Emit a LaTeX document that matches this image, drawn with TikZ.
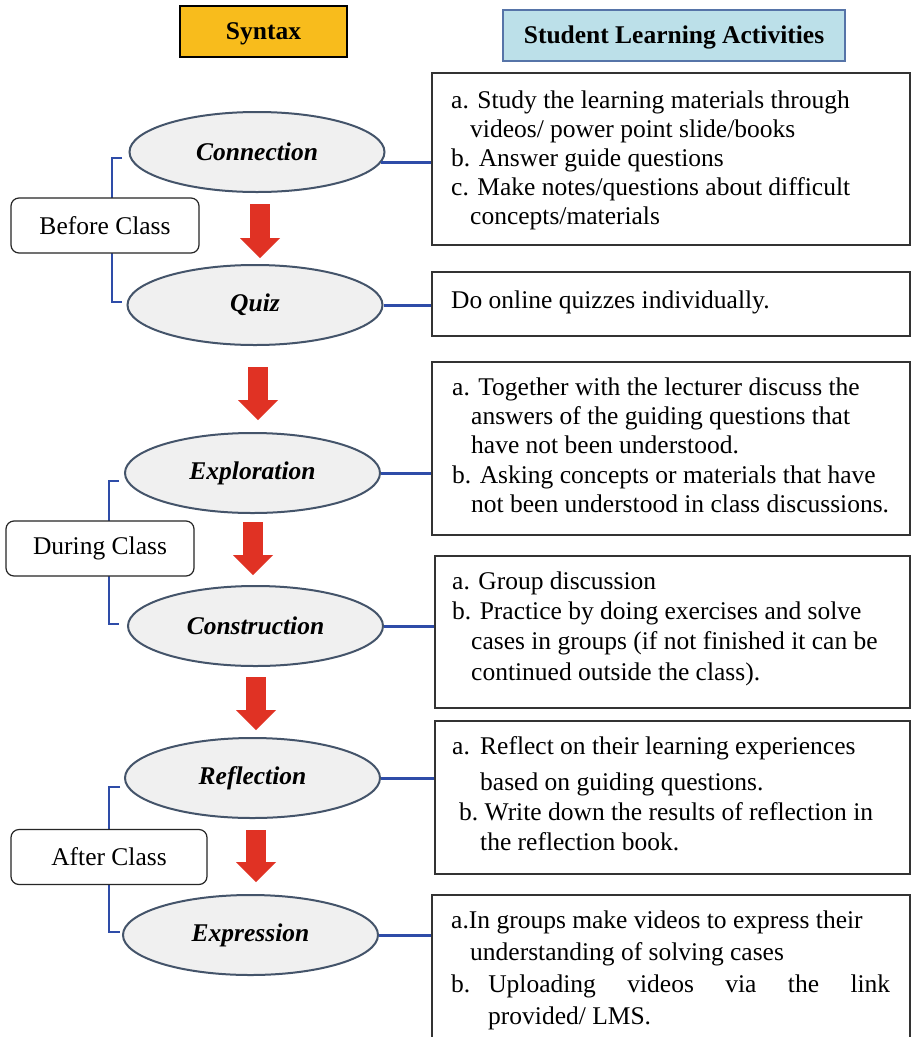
\documentclass[tikz,border=0pt]{standalone}
\usepackage{fontspec}
\setmainfont{Liberation Serif}
\usetikzlibrary{arrows.meta,shapes.geometric}
\definecolor{syntaxfill}{HTML}{F8BC1C}
\definecolor{slafill}{HTML}{BCE0E9}
\definecolor{slaborder}{HTML}{5674A8}
\definecolor{ellfill}{HTML}{F0F0F0}
\definecolor{ellborder}{HTML}{44546A}
\definecolor{arrowred}{HTML}{E03224}
\definecolor{linkblue}{HTML}{2E4CA8}
\begin{document}
\begin{tikzpicture}[x=1pt,y=-1pt,
  header/.style={draw, line width=1.4pt, minimum height=51pt, inner sep=0pt,
    text height=18pt, text depth=2pt,
    font=\fontsize{25.5}{28.8}\selectfont\bfseries},
  phase/.style={ellipse, draw=ellborder, fill=ellfill, line width=2pt,
    minimum width=255pt, minimum height=80pt, inner sep=0pt,
    font=\fontsize{25.5}{28.8}\selectfont\bfseries\itshape},
  stage/.style={draw=black!85, fill=white, rounded corners=8pt, line width=1.2pt,
    minimum height=55pt, inner sep=0pt, font=\fontsize{25.5}{28.8}\selectfont},
  actbox/.style={draw=black!80, line width=1.3pt, inner sep=0pt, minimum width=478pt},
  acttext/.style={anchor=north west, inner sep=0pt, align=left},
  link/.style={draw=linkblue, line width=3pt},
  bracket/.style={draw=linkblue, line width=2.6pt},
  blockarrow/.style={draw=arrowred, line width=20pt,
    -{Triangle[width=40pt,length=20pt,line width=0pt]}}
]
\useasboundingbox (0,0) rectangle (911,1037);
\clip (0,0) rectangle (911,1037);
\fill[white] (0,0) rectangle (911,1037);

% headers
\node[header, fill=syntaxfill, minimum width=167pt] (syntax) at (263.5,31.5) {Syntax};
\node[header, fill=slafill, draw=slaborder, minimum width=342pt] (sla) at (674,35.5) {Student Learning Activities};

% brackets (behind stage boxes)
\draw[bracket] (122,158) -- (112,158) -- (112,302) -- (122,302);
\draw[bracket] (119,481) -- (109,481) -- (109,624) -- (119,624);
\draw[bracket] (120,787) -- (109,787) -- (109,932) -- (120,932);

% stage labels
\node[stage, minimum width=188pt] (before) at (105,225.5) {Before Class};
\node[stage, minimum width=188pt] (during) at (100,548.5) {During Class};
\node[stage, minimum width=196pt] (after) at (109,857) {After Class};

% phases
\node[phase] (conn) at (257,152) {Connection};
\node[phase] (quiz) at (255,305) {Quiz};
\node[phase] (expl) at (252.5,473) {Exploration};
\node[phase] (cons) at (255.5,626) {Construction};
\node[phase] (refl) at (252.5,778) {Reflection};
\node[phase] (expr) at (250.5,935) {Expression};

% red arrows
\coordinate (a1s) at (260,204); \coordinate (a1e) at (260,258);
\coordinate (a2s) at (258,367); \coordinate (a2e) at (258,420);
\coordinate (a3s) at (253,522); \coordinate (a3e) at (253,575);
\coordinate (a4s) at (256,677); \coordinate (a4e) at (256,730);
\coordinate (a5s) at (256,830); \coordinate (a5e) at (256,882);
\draw[blockarrow] (a1s) -- (a1e);
\draw[blockarrow] (a2s) -- (a2e);
\draw[blockarrow] (a3s) -- (a3e);
\draw[blockarrow] (a4s) -- (a4e);
\draw[blockarrow] (a5s) -- (a5e);

% activity boxes
\node[actbox, minimum height=172pt] (b1) at (671,159) {};
\node[actbox, minimum height=64pt] (b2) at (671,304) {};
\node[actbox, minimum height=173pt] (b3) at (671,448.5) {};
\node[actbox, minimum width=475pt, minimum height=152pt] (b4) at (672.5,632) {};
\node[actbox, minimum width=475pt, minimum height=153pt] (b5) at (672.5,797.5) {};
\node[actbox, minimum height=165pt] (b6) at (671,977.5) {};

% links
\draw[link] (conn.-5) -- (conn.-5 -| b1.west);
\draw[link] (quiz.east) -- (quiz.east -| b2.west);
\draw[link] (expl.east) -- (expl.east -| b3.west);
\draw[link] (cons.east) -- (cons.east -| b4.west);
\draw[link] (refl.east) -- (refl.east -| b5.west);
\draw[link] (expr.east) -- (expr.east -| b6.west);

% activity texts
\node[acttext, font=\fontsize{25.5}{29.1}\selectfont] (t1) at (451,87.6) {%
\strut a. Study the learning materials through\\
\hspace*{19pt}videos/ power point slide/books\\
b. Answer guide questions\\
c. Make notes/questions about difficult\\
\hspace*{19pt}concepts/materials};
\node[acttext, font=\fontsize{25.5}{28.8}\selectfont] (t2) at (451,287.84) {%
\strut Do online quizzes individually.};
\node[acttext, font=\fontsize{25.5}{29.3}\selectfont] (t3) at (452,374.5) {%
\strut a. Together with the lecturer discuss the\\
\hspace*{19pt}answers of the guiding questions that\\
\hspace*{19pt}have not been understood.\\
b. Asking concepts or materials that have\\
\hspace*{19pt}not been understood in class discussions.};
\node[acttext, font=\fontsize{25.5}{30.3}\selectfont] (t4) at (452,567.8) {%
\strut a. Group discussion\\
b. Practice by doing exercises and solve\\
\hspace*{19pt}cases in groups (if not finished it can be\\
\hspace*{19pt}continued outside the class).};
\node[acttext, font=\fontsize{25.5}{30}\selectfont] (t5) at (452,733) {%
\strut\makebox[28pt][l]{a.}Reflect on their learning experiences\\[6pt]
\hspace*{28pt}based on guiding questions.\\
\hspace*{7pt}b.\ Write down the results of reflection in\\
\hspace*{28pt}the reflection book.};
\node[acttext, font=\fontsize{25.5}{32}\selectfont] (t6) at (451,905.6) {%
\strut a.In groups make videos to express their\\
\hspace*{19pt}understanding of solving cases\\
\makebox[439pt][s]{b.\hspace{18pt}Uploading\hfill videos\hfill via\hfill the\hfill link}\\
\hspace*{37pt}provided/ LMS.};
\end{tikzpicture}
\end{document}
